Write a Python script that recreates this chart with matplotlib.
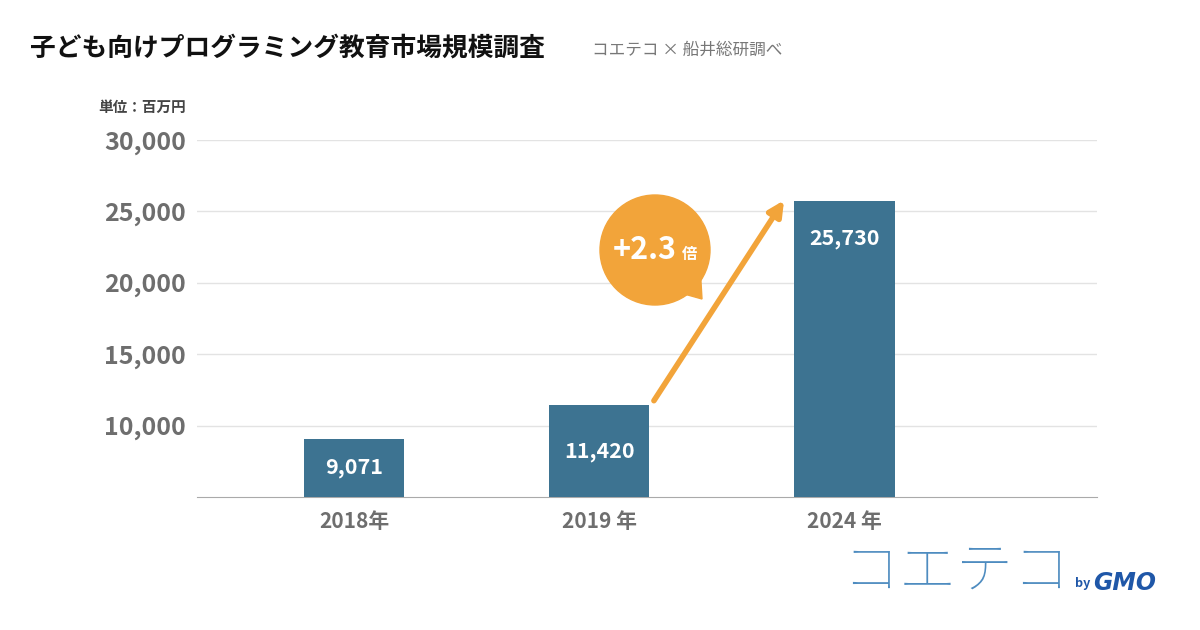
import matplotlib
matplotlib.use("Agg")
import matplotlib.pyplot as plt
from matplotlib import patches

categories = ["2018年", "2019 年", "2024 年"]
values = [9071, 11420, 25730]
value_labels = ["9,071", "11,420", "25,730"]
yticks = [10000, 15000, 20000, 25000, 30000]
ytick_labels = ["10,000", "15,000", "20,000", "25,000", "30,000"]

FONT = "Noto Sans CJK JP"
plt.rcParams["font.family"] = FONT
BAR = "#3d7391"
ORANGE = "#f2a43a"
GREY = "#6e6e6e"

fig = plt.figure(figsize=(12, 6.3), dpi=100)
ax = fig.add_axes([197/1200, 1-497/630, 900/1200, 357/630])
x = list(range(len(categories)))
ax.bar(x, values, width=0.41, color=BAR, zorder=3)
for xi, v, l in zip(x, values, value_labels):
    ax.text(xi, v - 2600 if v > 15000 else (v + 5000) / 2, l, ha="center", va="center",
            color="white", fontsize=15.5, fontweight="bold", zorder=4)
ax.set_xlim(-0.64, 3.03)
ax.set_ylim(5000, 30000)
ax.set_yticks(yticks)
ax.set_yticklabels(ytick_labels, fontsize=18, fontweight="bold", color=GREY)
ax.set_xticks(x)
ax.set_xticklabels(categories, fontsize=15, fontweight="bold", color=GREY)
ax.tick_params(length=0, axis="y", pad=8)
ax.tick_params(length=0, axis="x", pad=10)
ax.grid(axis="y", color="#e3e3e3", lw=1, zorder=0)
for s in ["top", "right", "left"]:
    ax.spines[s].set_visible(False)
ax.spines["bottom"].set_color("#aaaaaa")

# growth arrow
ax.annotate("", xy=(1.76, 25940), xytext=(1.217, 11580),
            arrowprops=dict(arrowstyle="-|>,head_length=0.9,head_width=0.45",
                            color=ORANGE, lw=4), zorder=5)

# bubble (pixel coords)
H = 630
fig.add_artist(patches.Circle((655, H-250), 55, transform=None, color=ORANGE, zorder=6))
fig.add_artist(patches.Polygon([(670, H-290), (702, H-299), (700, H-265)], closed=True,
                               transform=None, color=ORANGE, zorder=6))
fig.text(645/1200, 1-250/630, "+2.3", ha="center", va="center", color="white",
         fontsize=22, fontweight="bold", zorder=7)
fig.text(690/1200, 1-254/630, "倍", ha="center", va="center", color="white",
         fontsize=11, fontweight="bold", zorder=7)

fig.text(30/1200, 1-48/630, "子ども向けプログラミング教育市場規模調査", fontsize=18.5,
         fontweight="bold", va="center", color="#111111")
fig.text(592/1200, 1-50/630, "コエテコ × 船井総研調べ", fontsize=12, va="center", color="#777777")
fig.text(98/1200, 1-107/630, "単位：百万円", fontsize=10.5, fontweight="bold", va="center", color="#444444")

fig.text(842/1200, 1-572/630, "コエテコ", fontsize=41, fontweight="light", va="center",
         color="#4e8cc0")
fig.text(1075/1200, 1-584/630, "by", fontsize=9, fontweight="bold", va="center", color="#1f57a8")
fig.text(1093/1200, 1-583/630, "GMO", fontsize=17, fontweight="heavy", va="center",
         color="#1f57a8", fontfamily="DejaVu Sans", style="italic")

fig.savefig("out.png", dpi=100, facecolor="white")
